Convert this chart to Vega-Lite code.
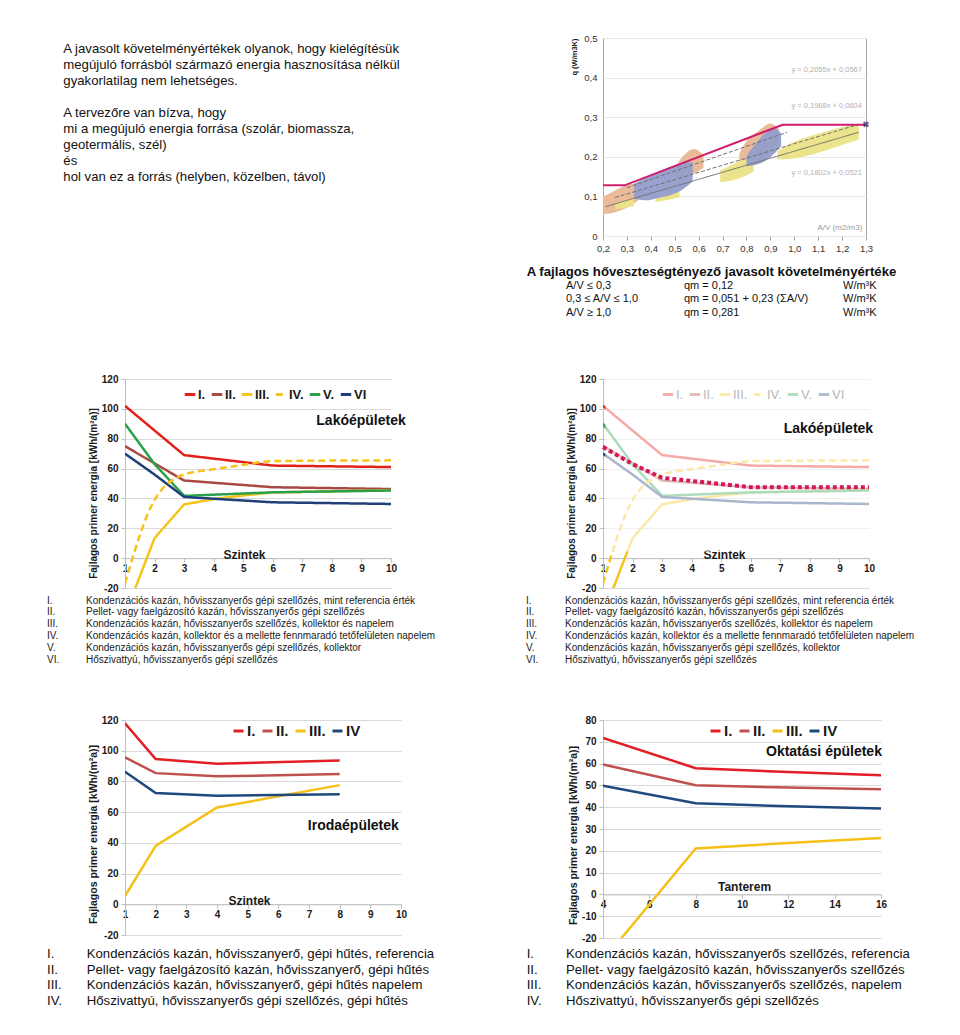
{
  "$schema": "https://vega.github.io/schema/vega-lite/v6.json",
  "background": "white",
  "padding": {"left": 47, "top": 32, "right": 10, "bottom": 10},
  "config": {
    "font": "Liberation Sans",
    "view": {"stroke": null},
    "axis": {"labelFontWeight": "bold", "labelFontSize": 10, "labelColor": "#1a1a1a", "domainColor": "#bfbfbf", "tickColor": "#bfbfbf", "gridColor": "#d9d9d9", "titleFontWeight": "bold", "titleColor": "#1a1a1a", "labelFlush": false, "labelOverlap": false, "labelBound": false},
    "legend": {"padding": 0, "symbolType": "stroke", "labelFontWeight": "bold", "labelColor": "#1a1a1a", "title": null, "gridAlign": "none"}
  },
  "datasets": {
    "leftText": [
      {"i": 0, "t": "A javasolt követelményértékek olyanok, hogy kielégítésük"},
      {"i": 1, "t": "megújuló forrásból származó energia hasznosítása nélkül"},
      {"i": 2, "t": "gyakorlatilag nem lehetséges."},
      {"i": 4, "t": "A tervezőre van bízva, hogy"},
      {"i": 5, "t": "mi a megújuló energia forrása (szolár, biomassza,"},
      {"i": 6, "t": "geotermális, szél)"},
      {"i": 7, "t": "és"},
      {"i": 8, "t": " hol van ez a forrás (helyben, közelben, távol)"}
    ],
    "caption": [
      {"r": 1, "a": "A/V ≤ 0,3", "b": "qm = 0,12", "c": "W/m³K"},
      {"r": 2, "a": "0,3 ≤ A/V ≤ 1,0", "b": "qm = 0,051 + 0,23 (ΣA/V)", "c": "W/m³K"},
      {"r": 3, "a": "A/V ≥ 1,0", "b": "qm = 0,281", "c": "W/m³K"}
    ],
    "clouds": [
      {"g": "O1", "c": "tan", "x": 0.2, "y": 0.055, "y2": 0.1},
      {"g": "O1", "c": "tan", "x": 0.24, "y": 0.058, "y2": 0.112},
      {"g": "O1", "c": "tan", "x": 0.28, "y": 0.066, "y2": 0.124},
      {"g": "O1", "c": "tan", "x": 0.32, "y": 0.078, "y2": 0.132},
      {"g": "O1", "c": "tan", "x": 0.355, "y": 0.095, "y2": 0.13},
      {"g": "O2", "c": "tan", "x": 0.5, "y": 0.148, "y2": 0.172},
      {"g": "O2", "c": "tan", "x": 0.54, "y": 0.152, "y2": 0.205},
      {"g": "O2", "c": "tan", "x": 0.58, "y": 0.158, "y2": 0.22},
      {"g": "O2", "c": "tan", "x": 0.62, "y": 0.172, "y2": 0.205},
      {"g": "O3", "c": "tan", "x": 0.77, "y": 0.188, "y2": 0.208},
      {"g": "O3", "c": "tan", "x": 0.8, "y": 0.18, "y2": 0.24},
      {"g": "O3", "c": "tan", "x": 0.85, "y": 0.186, "y2": 0.265},
      {"g": "O3", "c": "tan", "x": 0.9, "y": 0.212, "y2": 0.284},
      {"g": "O3", "c": "tan", "x": 0.935, "y": 0.24, "y2": 0.272},
      {"g": "Y1", "c": "yellow", "x": 0.25, "y": 0.068, "y2": 0.082},
      {"g": "Y1", "c": "yellow", "x": 0.29, "y": 0.071, "y2": 0.09},
      {"g": "Y1", "c": "yellow", "x": 0.33, "y": 0.076, "y2": 0.094},
      {"g": "Y2", "c": "yellow", "x": 0.42, "y": 0.086, "y2": 0.101},
      {"g": "Y2", "c": "yellow", "x": 0.47, "y": 0.091, "y2": 0.108},
      {"g": "Y2", "c": "yellow", "x": 0.52, "y": 0.098, "y2": 0.114},
      {"g": "Y3", "c": "yellow", "x": 0.69, "y": 0.136, "y2": 0.166},
      {"g": "Y3", "c": "yellow", "x": 0.74, "y": 0.14, "y2": 0.18},
      {"g": "Y3", "c": "yellow", "x": 0.79, "y": 0.15, "y2": 0.192},
      {"g": "Y3", "c": "yellow", "x": 0.83, "y": 0.163, "y2": 0.19},
      {"g": "Y4", "c": "yellow", "x": 0.93, "y": 0.193, "y2": 0.214},
      {"g": "Y4", "c": "yellow", "x": 1.0, "y": 0.196, "y2": 0.238},
      {"g": "Y4", "c": "yellow", "x": 1.1, "y": 0.21, "y2": 0.258},
      {"g": "Y4", "c": "yellow", "x": 1.2, "y": 0.23, "y2": 0.275},
      {"g": "Y4", "c": "yellow", "x": 1.27, "y": 0.243, "y2": 0.284},
      {"g": "B1", "c": "blue", "x": 0.33, "y": 0.094, "y2": 0.132},
      {"g": "B1", "c": "blue", "x": 0.38, "y": 0.09, "y2": 0.148},
      {"g": "B1", "c": "blue", "x": 0.43, "y": 0.096, "y2": 0.162},
      {"g": "B1", "c": "blue", "x": 0.48, "y": 0.103, "y2": 0.174},
      {"g": "B1", "c": "blue", "x": 0.53, "y": 0.116, "y2": 0.184},
      {"g": "B1", "c": "blue", "x": 0.575, "y": 0.138, "y2": 0.187},
      {"g": "B2", "c": "blue", "x": 0.8, "y": 0.176, "y2": 0.202},
      {"g": "B2", "c": "blue", "x": 0.84, "y": 0.18, "y2": 0.235},
      {"g": "B2", "c": "blue", "x": 0.88, "y": 0.19, "y2": 0.26},
      {"g": "B2", "c": "blue", "x": 0.92, "y": 0.21, "y2": 0.272},
      {"g": "B2", "c": "blue", "x": 0.945, "y": 0.228, "y2": 0.258}
    ],
    "trend": [
      {"g": "a", "x": 0.21, "y": 0.074}, {"g": "a", "x": 1.27, "y": 0.262},
      {"g": "b", "x": 0.25, "y": 0.097}, {"g": "b", "x": 1.27, "y": 0.282},
      {"g": "c", "x": 0.3, "y": 0.122}, {"g": "c", "x": 0.97, "y": 0.262}
    ],
    "req": [
      {"x": 0.2, "y": 0.128}, {"x": 0.29, "y": 0.128}, {"x": 0.951, "y": 0.281}, {"x": 1.3, "y": 0.281}
    ],
    "reqEnd": [{"x": 1.3, "y": 0.282}],
    "eqs": [
      {"t": "y = 0,2055x + 0,0567", "x": 1.283, "y": 0.419},
      {"t": "y = 0,1968x + 0,0604", "x": 1.283, "y": 0.329},
      {"t": "y = 0,1802x + 0,0521", "x": 1.283, "y": 0.16}
    ],
    "avLabel": [{"t": "A/V (m2/m3)", "x": 1.285, "y": 0.02}],
    "res": [
      {"s": "I.", "x": 1, "y": 102}, {"s": "I.", "x": 2, "y": 85.5}, {"s": "I.", "x": 3, "y": 69}, {"s": "I.", "x": 6, "y": 62}, {"s": "I.", "x": 10, "y": 61},
      {"s": "II.", "x": 1, "y": 75}, {"s": "II.", "x": 2, "y": 63.5}, {"s": "II.", "x": 3, "y": 52}, {"s": "II.", "x": 6, "y": 47.5}, {"s": "II.", "x": 10, "y": 46.3},
      {"s": "III.", "x": 1, "y": -38}, {"s": "III.", "x": 2, "y": 13.4}, {"s": "III.", "x": 3, "y": 36}, {"s": "III.", "x": 4, "y": 39.5}, {"s": "III.", "x": 5, "y": 42}, {"s": "III.", "x": 6, "y": 44}, {"s": "III.", "x": 10, "y": 45.5},
      {"s": "IV.", "x": 1, "y": -17}, {"s": "IV.", "x": 2, "y": 39}, {"s": "IV.", "x": 3, "y": 56}, {"s": "IV.", "x": 4, "y": 59.5}, {"s": "IV.", "x": 5, "y": 62.5}, {"s": "IV.", "x": 6, "y": 65}, {"s": "IV.", "x": 10, "y": 65.5},
      {"s": "V.", "x": 1, "y": 90}, {"s": "V.", "x": 2, "y": 63}, {"s": "V.", "x": 3, "y": 41.7}, {"s": "V.", "x": 6, "y": 44.1}, {"s": "V.", "x": 10, "y": 45.3},
      {"s": "VI", "x": 1, "y": 70}, {"s": "VI", "x": 2, "y": 56}, {"s": "VI", "x": 3, "y": 41}, {"s": "VI", "x": 6, "y": 37.4}, {"s": "VI", "x": 10, "y": 36.3}
    ],
    "resSel": [
      {"x": 1, "y": 74.5}, {"x": 2, "y": 63}, {"x": 3, "y": 53.8}, {"x": 6, "y": 47.5}, {"x": 10, "y": 47.5}
    ],
    "office": [
      {"s": "I.", "x": 1, "y": 117.8}, {"s": "I.", "x": 2, "y": 94.6}, {"s": "I.", "x": 4, "y": 91.5}, {"s": "I.", "x": 8, "y": 93.7},
      {"s": "II.", "x": 1, "y": 95.7}, {"s": "II.", "x": 2, "y": 85.4}, {"s": "II.", "x": 4, "y": 83.3}, {"s": "II.", "x": 8, "y": 84.8},
      {"s": "III.", "x": 1, "y": 5.4}, {"s": "III.", "x": 2, "y": 38}, {"s": "III.", "x": 4, "y": 63}, {"s": "III.", "x": 8, "y": 77.6},
      {"s": "IV", "x": 1, "y": 86.3}, {"s": "IV", "x": 2, "y": 72.4}, {"s": "IV", "x": 4, "y": 70.7}, {"s": "IV", "x": 8, "y": 71.7}
    ],
    "school": [
      {"s": "I.", "x": 4, "y": 71.8}, {"s": "I.", "x": 8, "y": 57.9}, {"s": "I.", "x": 12, "y": 56.1}, {"s": "I.", "x": 16, "y": 54.6},
      {"s": "II.", "x": 4, "y": 59.6}, {"s": "II.", "x": 8, "y": 50.1}, {"s": "II.", "x": 12, "y": 49}, {"s": "II.", "x": 16, "y": 48.2},
      {"s": "III.", "x": 4, "y": -30.3}, {"s": "III.", "x": 8, "y": 21.1}, {"s": "III.", "x": 12, "y": 23.6}, {"s": "III.", "x": 16, "y": 25.9},
      {"s": "IV", "x": 4, "y": 49.8}, {"s": "IV", "x": 8, "y": 41.8}, {"s": "IV", "x": 12, "y": 40.4}, {"s": "IV", "x": 16, "y": 39.4}
    ],
    "descRes": [
      {"r": 0, "n": "I.", "t": "Kondenzációs kazán, hővisszanyerős gépi szellőzés, mint referencia érték"},
      {"r": 1, "n": "II.", "t": "Pellet- vagy faelgázosító kazán, hővisszanyerős gépi szellőzés"},
      {"r": 2, "n": "III.", "t": "Kondenzációs kazán, hővisszanyerős szellőzés, kollektor és napelem"},
      {"r": 3, "n": "IV.", "t": "Kondenzációs kazán, kollektor és a mellette fennmaradó tetőfelületen napelem"},
      {"r": 4, "n": "V.", "t": "Kondenzációs kazán, hővisszanyerős gépi szellőzés, kollektor"},
      {"r": 5, "n": "VI.", "t": "Hőszivattyú, hővisszanyerős gépi szellőzés"}
    ],
    "descOffice": [
      {"r": 0, "n": "I.", "t": "Kondenzációs kazán, hővisszanyerő, gépi hűtés, referencia"},
      {"r": 1, "n": "II.", "t": "Pellet- vagy faelgázosító kazán, hővisszanyerő, gépi hűtés"},
      {"r": 2, "n": "III.", "t": "Kondenzációs kazán, hővisszanyerő, gépi hűtés napelem"},
      {"r": 3, "n": "IV.", "t": "Hőszivattyú, hővisszanyerős gépi szellőzés, gépi hűtés"}
    ],
    "descSchool": [
      {"r": 0, "n": "I.", "t": "Kondenzációs kazán, hővisszanyerős szellőzés, referencia"},
      {"r": 1, "n": "II.", "t": "Pellet- vagy faelgázosító kazán, hővisszanyerős szellőzés"},
      {"r": 2, "n": "III.", "t": "Kondenzációs kazán, hővisszanyerős szellőzés, napelem"},
      {"r": 3, "n": "IV.", "t": "Hőszivattyú, hővisszanyerős gépi szellőzés"}
    ]
  },
  "columns": 2,
  "bounds": "flush",
  "spacing": {"row": 4, "column": 202},
  "resolve": {"scale": {"color": "independent", "strokeDash": "independent"}, "legend": {"color": "independent", "strokeDash": "independent"}},
  "concat": [
    {
      "width": 276, "height": 198,
      "data": {"name": "leftText"},
      "mark": {"type": "text", "align": "left", "baseline": "middle", "fontSize": 13.2, "color": "#111111"},
      "encoding": {
        "x": {"datum": "l", "type": "nominal", "scale": {"type": "point", "domain": ["l"], "range": [-61.7, -61.7]}, "axis": null},
        "y": {"field": "i", "type": "ordinal", "scale": {"type": "point", "domain": [0, 1, 2, 3, 4, 5, 6, 7, 8], "range": [11.3, 138.5], "padding": 0}, "axis": null},
        "text": {"field": "t"}
      }
    },
    {
      "width": 263, "height": 198,
      "view": {"stroke": "#a6a6a6"},
      "encoding": {
        "x": {"field": "x", "type": "quantitative", "scale": {"domain": [0.2, 1.3], "nice": false, "zero": false},
              "axis": {"values": [0.2, 0.3, 0.4, 0.5, 0.6, 0.7, 0.8, 0.9, 1.0, 1.1, 1.2, 1.3], "labelExpr": "replace(format(datum.value, '.1f'), '.', ',')", "title": null, "labelFontWeight": "normal", "labelFontSize": 9.5, "labelColor": "#333333", "tickSize": 4, "tickColor": "#a6a6a6", "domain": false, "grid": false, "labelPadding": 3}},
        "y": {"field": "y", "type": "quantitative", "scale": {"domain": [0, 0.5], "nice": false, "zero": false},
              "axis": {"values": [0, 0.1, 0.2, 0.3, 0.4, 0.5], "labelExpr": "datum.value === 0 ? '0' : replace(format(datum.value, '.1f'), '.', ',')", "title": "q (W/m3K)", "titleAnchor": "end", "titleFontSize": 7.5, "titlePadding": 5, "labelFontWeight": "normal", "labelFontSize": 9.5, "labelColor": "#333333", "tickSize": 0, "labelPadding": 6, "domain": false, "grid": true, "gridColor": "#e8e8e8"}}
      },
      "layer": [
        {
          "data": {"name": "clouds"},
          "mark": {"type": "area", "interpolate": "monotone", "opacity": 0.95},
          "encoding": {
            "y2": {"field": "y2"},
            "color": {"field": "c", "type": "nominal", "scale": {"domain": ["tan", "yellow", "blue"], "range": ["#e8b792", "#ebe387", "#939dcb"]}, "legend": null},
            "detail": {"field": "g"}
          }
        },
        {
          "data": {"name": "trend"},
          "mark": {"type": "line", "strokeWidth": 1, "color": "#707070"},
          "encoding": {
            "strokeDash": {"field": "g", "type": "nominal", "scale": {"domain": ["a", "b", "c"], "range": [[1, 0], [4, 2], [4, 2]]}, "legend": null}
          }
        },
        {
          "data": {"name": "req"},
          "mark": {"type": "line", "strokeWidth": 2, "color": "#d01c6b"}
        },
        {
          "data": {"name": "reqEnd"},
          "mark": {"type": "point", "shape": "cross", "angle": 45, "filled": true, "size": 40, "color": "#3b2d62"}
        },
        {
          "data": {"name": "eqs"},
          "mark": {"type": "text", "align": "right", "baseline": "middle", "fontSize": 7.5, "color": "#b0b0b0"},
          "encoding": {"text": {"field": "t"}}
        },
        {
          "data": {"name": "avLabel"},
          "mark": {"type": "text", "align": "right", "baseline": "middle", "fontSize": 8, "color": "#999999"},
          "encoding": {"text": {"field": "t"}}
        }
      ]
    },
    {
      "width": 10, "height": 135,
      "data": {"values": []},
      "mark": "point"
    },
    {
      "width": 263, "height": 135,
      "encoding": {
        "y": {"field": "r", "type": "ordinal", "scale": {"type": "point", "domain": [0, 1, 2, 3], "range": [32, 72.5], "padding": 0}, "axis": null}
      },
      "layer": [
        {
          "data": {"values": [{"r": 0}]},
          "mark": {"type": "text", "align": "center", "baseline": "middle", "fontSize": 13.2, "fontWeight": "bold", "color": "#111111", "dx": 7, "text": "A fajlagos hőveszteségtényező javasolt követelményértéke"},
          "encoding": {"x": {"datum": "b", "type": "nominal", "scale": {"type": "point", "domain": ["a", "b", "c"], "range": [-37, 240], "padding": 0}, "axis": null}}
        },
        {
          "data": {"name": "caption"},
          "mark": {"type": "text", "align": "left", "baseline": "middle", "fontSize": 11, "color": "#111111"},
          "encoding": {"x": {"datum": "a", "type": "nominal"}, "text": {"field": "a"}}
        },
        {
          "data": {"name": "caption"},
          "mark": {"type": "text", "align": "left", "baseline": "middle", "fontSize": 11, "color": "#111111", "dx": -20.5},
          "encoding": {"x": {"datum": "b", "type": "nominal"}, "text": {"field": "b"}}
        },
        {
          "data": {"name": "caption"},
          "mark": {"type": "text", "align": "left", "baseline": "middle", "fontSize": 11, "color": "#111111"},
          "encoding": {"x": {"datum": "c", "type": "nominal"}, "text": {"field": "c"}}
        }
      ]
    },
    {
      "width": 266, "height": 209,
      "data": {"name": "res"},
      "encoding": {
        "x": {"field": "x", "type": "quantitative", "scale": {"domain": [1, 10], "nice": false, "zero": false},
              "axis": {"values": [1, 2, 3, 4, 5, 6, 7, 8, 9, 10], "format": "d", "grid": false, "offset": -29.86, "tickSize": 4, "labelPadding": 1, "title": "Szintek", "titleFontSize": 12, "titleX": 119, "titleY": -3.5, "titleAlign": "center", "titleBaseline": "middle"}},
        "y": {"field": "y", "type": "quantitative", "scale": {"domain": [-20, 120], "nice": false, "zero": false},
              "axis": {"values": [-20, 0, 20, 40, 60, 80, 100, 120], "labelExpr": "replace(datum.label, '−', '-')", "grid": true, "tickSize": 4, "labelPadding": 3, "title": "Fajlagos primer energia [kWh/(m²a)]", "titleFontSize": 10, "titlePadding": 3, "titleY": 114}}
      },
      "layer": [
        {
          "transform": [{"filter": "datum.s !== 'IV.'"}],
          "mark": {"type": "line", "strokeWidth": 2.5, "clip": true},
          "encoding": {
            "color": {"field": "s", "type": "nominal", "scale": {"domain": ["I.", "II.", "III.", "IV.", "V.", "VI"], "range": ["#e3211b", "#a84a43", "#f6c21c", "#f6c21c", "#2ba04a", "#203f79"]},
                      "legend": {"orient": "none", "legendX": 58, "legendY": 8.5, "direction": "horizontal", "columns": 6, "symbolSize": 110, "symbolStrokeWidth": 3, "labelFontSize": 13, "columnPadding": -1, "labelOffset": 1}},
            "strokeDash": {"field": "s", "type": "nominal", "scale": {"domain": ["I.", "II.", "III.", "IV.", "V.", "VI"], "range": [[1, 0], [1, 0], [1, 0], [7, 4], [1, 0], [1, 0]]},
                      "legend": {"orient": "none", "legendX": 58, "legendY": 8.5, "direction": "horizontal", "columns": 6, "symbolSize": 110, "symbolStrokeWidth": 3, "labelFontSize": 13, "columnPadding": -1, "labelOffset": 1}}
          }
        },
        {
          "transform": [{"filter": "datum.s === 'IV.'"}],
          "mark": {"type": "line", "strokeWidth": 2.5, "clip": true, "interpolate": "monotone"},
          "encoding": {
            "color": {"field": "s", "type": "nominal"},
            "strokeDash": {"field": "s", "type": "nominal"}
          }
        },
        {
          "data": {"values": [{"x": 10.5, "y": 92, "t": "Lakóépületek"}]},
          "mark": {"type": "text", "align": "right", "baseline": "middle", "fontSize": 14, "fontWeight": "bold", "color": "#111111"},
          "encoding": {"text": {"field": "t"}}
        }
      ]
    },
    {
      "width": 266, "height": 209,
      "data": {"name": "res"},
      "encoding": {
        "x": {"field": "x", "type": "quantitative", "scale": {"domain": [1, 10], "nice": false, "zero": false},
              "axis": {"values": [1, 2, 3, 4, 5, 6, 7, 8, 9, 10], "format": "d", "grid": false, "offset": -29.86, "tickSize": 4, "labelPadding": 1, "title": "Szintek", "titleFontSize": 12, "titleX": 121, "titleY": -3.5, "titleAlign": "center", "titleBaseline": "middle"}},
        "y": {"field": "y", "type": "quantitative", "scale": {"domain": [-20, 120], "nice": false, "zero": false},
              "axis": {"values": [-20, 0, 20, 40, 60, 80, 100, 120], "labelExpr": "replace(datum.label, '−', '-')", "grid": true, "tickSize": 4, "labelPadding": 3, "title": "Fajlagos primer energia [kWh/(m²a)]", "titleFontSize": 10, "titlePadding": 3, "titleY": 114}}
      },
      "layer": [
        {
          "transform": [{"filter": "datum.s !== 'IV.'"}],
          "mark": {"type": "line", "strokeWidth": 2.5, "clip": true},
          "encoding": {
            "color": {"field": "s", "type": "nominal", "scale": {"domain": ["I.", "II.", "III.", "IV.", "V.", "VI"], "range": ["#e3211b", "#a84a43", "#f6c21c", "#f6c21c", "#2ba04a", "#203f79"]},
                      "legend": {"orient": "none", "legendX": 58, "legendY": 8.5, "direction": "horizontal", "columns": 6, "symbolSize": 110, "symbolStrokeWidth": 3, "symbolOpacity": 0.35, "labelFontSize": 13, "labelFontWeight": "normal", "labelColor": "#b8b8b8", "columnPadding": -1, "labelOffset": 1}},
            "strokeDash": {"field": "s", "type": "nominal", "scale": {"domain": ["I.", "II.", "III.", "IV.", "V.", "VI"], "range": [[1, 0], [1, 0], [1, 0], [7, 4], [1, 0], [1, 0]]},
                      "legend": {"orient": "none", "legendX": 58, "legendY": 8.5, "direction": "horizontal", "columns": 6, "symbolSize": 110, "symbolStrokeWidth": 3, "symbolOpacity": 0.35, "labelFontSize": 13, "labelFontWeight": "normal", "labelColor": "#b8b8b8", "columnPadding": -1, "labelOffset": 1}}
          }
        },
        {
          "transform": [{"filter": "datum.s === 'IV.'"}],
          "mark": {"type": "line", "strokeWidth": 2.5, "clip": true, "interpolate": "monotone"},
          "encoding": {
            "color": {"field": "s", "type": "nominal"},
            "strokeDash": {"field": "s", "type": "nominal"}
          }
        },
        {
          "data": {"values": [{"x": 1.08, "x2": 10.4, "y": 4.5, "y2": 121}]},
          "mark": {"type": "rect", "fill": "white", "opacity": 0.62},
          "encoding": {"x2": {"field": "x2"}, "y2": {"field": "y2"}}
        },
        {
          "data": {"name": "resSel"},
          "mark": {"type": "line", "strokeWidth": 4, "strokeDash": [4, 3], "strokeCap": "butt", "color": "#d4185a"}
        },
        {
          "data": {"values": [{"x": 10.14, "y": 86.6, "t": "Lakóépületek"}]},
          "mark": {"type": "text", "align": "right", "baseline": "middle", "fontSize": 14, "fontWeight": "bold", "color": "#111111"},
          "encoding": {"text": {"field": "t"}}
        }
      ]
    },
    {
      "width": 266, "height": 124,
      "data": {"name": "descRes"},
      "encoding": {
        "y": {"field": "r", "type": "ordinal", "scale": {"type": "point", "domain": [0, 1, 2, 3, 4, 5], "range": [8.5, 67.5], "padding": 0}, "axis": null}
      },
      "layer": [
        {
          "mark": {"type": "text", "align": "left", "baseline": "middle", "fontSize": 10, "color": "#1a1a1a"},
          "encoding": {"x": {"datum": "n", "type": "nominal", "scale": {"type": "point", "domain": ["n", "t"], "range": [-78, -39], "padding": 0}, "axis": null}, "text": {"field": "n"}}
        },
        {
          "mark": {"type": "text", "align": "left", "baseline": "middle", "fontSize": 10, "color": "#1a1a1a"},
          "encoding": {"x": {"datum": "t", "type": "nominal"}, "text": {"field": "t"}}
        }
      ]
    },
    {
      "width": 266, "height": 124,
      "data": {"name": "descRes"},
      "encoding": {
        "y": {"field": "r", "type": "ordinal", "scale": {"type": "point", "domain": [0, 1, 2, 3, 4, 5], "range": [8.5, 67.5], "padding": 0}, "axis": null}
      },
      "layer": [
        {
          "mark": {"type": "text", "align": "left", "baseline": "middle", "fontSize": 10, "color": "#1a1a1a"},
          "encoding": {"x": {"datum": "n", "type": "nominal", "scale": {"type": "point", "domain": ["n", "t"], "range": [-77, -38], "padding": 0}, "axis": null}, "text": {"field": "n"}}
        },
        {
          "mark": {"type": "text", "align": "left", "baseline": "middle", "fontSize": 10, "color": "#1a1a1a"},
          "encoding": {"x": {"datum": "t", "type": "nominal"}, "text": {"field": "t"}}
        }
      ]
    },
    {
      "width": 276, "height": 215,
      "data": {"name": "office"},
      "encoding": {
        "x": {"field": "x", "type": "quantitative", "scale": {"domain": [1, 10], "nice": false, "zero": false},
              "axis": {"values": [1, 2, 3, 4, 5, 6, 7, 8, 9, 10], "format": "d", "grid": false, "offset": -30.71, "tickSize": 4, "labelPadding": 1, "title": "Szintek", "titleFontSize": 12, "titleX": 124, "titleY": -3.5, "titleAlign": "center", "titleBaseline": "middle"}},
        "y": {"field": "y", "type": "quantitative", "scale": {"domain": [-20, 120], "nice": false, "zero": false},
              "axis": {"values": [-20, 0, 20, 40, 60, 80, 100, 120], "labelExpr": "replace(datum.label, '−', '-')", "grid": true, "tickSize": 4, "labelPadding": 3, "title": "Fajlagos primer energia [kWh/(m²a)]", "titleFontSize": 10.5, "titlePadding": 3, "titleY": 114}}
      },
      "layer": [
        {
          "mark": {"type": "line", "strokeWidth": 2.5, "clip": true},
          "encoding": {
            "color": {"field": "s", "type": "nominal", "scale": {"domain": ["I.", "II.", "III.", "IV"], "range": ["#e31e24", "#c0504d", "#f5c01a", "#1f497d"]},
                      "legend": {"orient": "none", "legendX": 106, "legendY": 3.5, "direction": "horizontal", "columns": 4, "symbolSize": 100, "symbolStrokeWidth": 3, "labelFontSize": 15, "columnPadding": 0, "labelOffset": 1}}
          }
        },
        {
          "data": {"values": [{"x": 9.93, "y": 51.2, "t": "Irodaépületek"}]},
          "mark": {"type": "text", "align": "right", "baseline": "middle", "fontSize": 14, "fontWeight": "bold", "color": "#111111"},
          "encoding": {"text": {"field": "t"}}
        }
      ]
    },
    {
      "width": 278, "height": 218,
      "data": {"name": "school"},
      "encoding": {
        "x": {"field": "x", "type": "quantitative", "scale": {"domain": [4, 16], "nice": false, "zero": false},
              "axis": {"values": [4, 6, 8, 10, 12, 14, 16], "format": "d", "grid": false, "offset": -43.6, "tickSize": 4, "labelPadding": 1, "title": "Tanterem", "titleFontSize": 12, "titleX": 141, "titleY": -8, "titleAlign": "center", "titleBaseline": "middle"}},
        "y": {"field": "y", "type": "quantitative", "scale": {"domain": [-20, 80], "nice": false, "zero": false},
              "axis": {"values": [-20, -10, 0, 10, 20, 30, 40, 50, 60, 70, 80], "labelExpr": "replace(datum.label, '−', '-')", "grid": true, "tickSize": 4, "labelPadding": 3, "title": "Fajlagos primer energia [kWh/(m²a)]", "titleFontSize": 10.5, "titlePadding": 3, "titleY": 115}}
      },
      "layer": [
        {
          "mark": {"type": "line", "strokeWidth": 2.5, "clip": true},
          "encoding": {
            "color": {"field": "s", "type": "nominal", "scale": {"domain": ["I.", "II.", "III.", "IV"], "range": ["#e31e24", "#c0504d", "#f5c01a", "#1f497d"]},
                      "legend": {"orient": "none", "legendX": 105, "legendY": 3.5, "direction": "horizontal", "columns": 4, "symbolSize": 100, "symbolStrokeWidth": 3, "labelFontSize": 15, "columnPadding": 0, "labelOffset": 1}}
          }
        },
        {
          "data": {"values": [{"x": 16.04, "y": 65.1, "t": "Oktatási épületek"}]},
          "mark": {"type": "text", "align": "right", "baseline": "middle", "fontSize": 14, "fontWeight": "bold", "color": "#111111"},
          "encoding": {"text": {"field": "t"}}
        }
      ]
    },
    {
      "width": 276, "height": 80,
      "data": {"name": "descOffice"},
      "encoding": {
        "y": {"field": "r", "type": "ordinal", "scale": {"type": "point", "domain": [0, 1, 2, 3], "range": [11.8, 59.2], "padding": 0}, "axis": null}
      },
      "layer": [
        {
          "mark": {"type": "text", "align": "left", "baseline": "middle", "fontSize": 13.2, "color": "#111111"},
          "encoding": {"x": {"datum": "n", "type": "nominal", "scale": {"type": "point", "domain": ["n", "t"], "range": [-78, -38.3], "padding": 0}, "axis": null}, "text": {"field": "n"}}
        },
        {
          "mark": {"type": "text", "align": "left", "baseline": "middle", "fontSize": 13.2, "color": "#111111"},
          "encoding": {"x": {"datum": "t", "type": "nominal"}, "text": {"field": "t"}}
        }
      ]
    },
    {
      "width": 278, "height": 80,
      "data": {"name": "descSchool"},
      "encoding": {
        "y": {"field": "r", "type": "ordinal", "scale": {"type": "point", "domain": [0, 1, 2, 3], "range": [11.8, 59.2], "padding": 0}, "axis": null}
      },
      "layer": [
        {
          "mark": {"type": "text", "align": "left", "baseline": "middle", "fontSize": 13.2, "color": "#111111"},
          "encoding": {"x": {"datum": "n", "type": "nominal", "scale": {"type": "point", "domain": ["n", "t"], "range": [-76.3, -37], "padding": 0}, "axis": null}, "text": {"field": "n"}}
        },
        {
          "mark": {"type": "text", "align": "left", "baseline": "middle", "fontSize": 13.2, "color": "#111111"},
          "encoding": {"x": {"datum": "t", "type": "nominal"}, "text": {"field": "t"}}
        }
      ]
    }
  ]
}
